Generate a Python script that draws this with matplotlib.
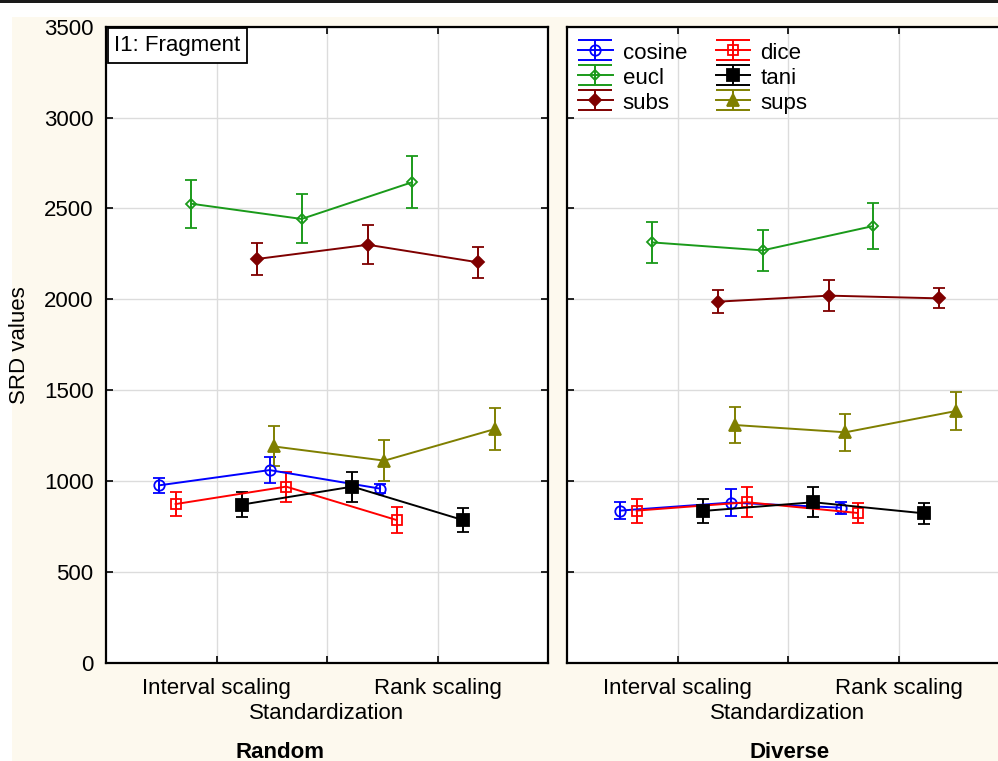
import matplotlib
matplotlib.use("Agg")
import matplotlib.pyplot as plt
from matplotlib.patches import Rectangle
from matplotlib.lines import Line2D
from matplotlib.path import Path
from matplotlib.legend_handler import HandlerTuple
import numpy as np

plt.rcParams['font.family'] = ['Liberation Sans', 'DejaVu Sans']

categories = ["Interval scaling", "Standardization", "Rank scaling"]
series = ["cosine", "dice", "eucl", "tani", "subs", "sups"]

random_means = {
    "cosine": [976, 1060, 958],
    "dice": [873, 969, 785],
    "eucl": [2526, 2442, 2644],
    "tani": [870, 969, 785],
    "subs": [2222, 2300, 2203],
    "sups": [1190, 1112, 1286],
}
random_err = {
    "cosine": [43, 71, 25],
    "dice": [68, 82, 70],
    "eucl": [133, 135, 143],
    "tani": [68, 83, 68],
    "subs": [88, 106, 85],
    "sups": [110, 112, 117],
}
diverse_means = {
    "cosine": [837, 881, 853],
    "dice": [837, 883, 824],
    "eucl": [2313, 2269, 2403],
    "tani": [835, 883, 822],
    "subs": [1987, 2020, 2005],
    "sups": [1308, 1268, 1385],
}
diverse_err = {
    "cosine": [48, 74, 33],
    "dice": [66, 83, 57],
    "eucl": [114, 112, 126],
    "tani": [66, 83, 58],
    "subs": [65, 84, 55],
    "sups": [97, 102, 102],
}
panel_titles = ["Random", "Diverse"]
inset_label = "I1: Fragment"
y_label = "SRD values"

styles = {
    "cosine": dict(color="#0000FF", marker="o", ms=7.5, mfc="none", offset=-0.52),
    "dice": dict(color="#FF0000", marker="s", ms=7.5, mfc="none", offset=-0.37),
    "eucl": dict(color="#1A9A1A", marker="D", ms=5.5, mfc="none", offset=-0.23),
    "tani": dict(color="#000000", marker="s", ms=8.5, mfc="#000000", offset=0.23),
    "subs": dict(color="#7F0000", marker="D", ms=6.0, mfc="#7F0000", offset=0.37),
    "sups": dict(color="#7F7F00", marker="^", ms=8.5, mfc="#7F7F00", offset=0.52),
}

# I-beam marker for legend glyph (wide caps above and below)
ibeam = Path([(-1.7, 1), (1.7, 1), (0, 1), (0, -1), (-1.7, -1), (1.7, -1)],
             [Path.MOVETO, Path.LINETO, Path.MOVETO, Path.LINETO, Path.MOVETO, Path.LINETO])

W, H = 998, 761
fig = plt.figure(figsize=(W / 100, H / 100), dpi=100, facecolor="white")
cream = "#FDF9EE"
fig.patches.append(Rectangle((12 / W, 0), 1 - 12 / W, 1 - 17 / H, transform=fig.transFigure,
                             facecolor=cream, edgecolor="none", zorder=-10))
fig.patches.append(Rectangle((0, 1 - 2.5 / H), 1, 2.5 / H, transform=fig.transFigure,
                             facecolor="#1a1a1a", edgecolor="none", zorder=-9))

ax_b = 1 - 662.7 / H
ax_h = (662.7 - 26.7) / H
ax_w = (548 - 106) / W
axes = [fig.add_axes([106 / W, ax_b, ax_w, ax_h]),
        fig.add_axes([567 / W, ax_b, ax_w, ax_h])]

FS = 16
xpos = np.arange(1, len(categories) + 1)
datasets = [(random_means, random_err), (diverse_means, diverse_err)]

for i, (ax, (means, errs)) in enumerate(zip(axes, datasets)):
    ax.set_facecolor("white")
    for s in series:
        st = styles[s]
        ax.errorbar(xpos + st["offset"], means[s], yerr=errs[s], color=st["color"],
                    marker=st["marker"], ms=st["ms"], mfc=st["mfc"], mec=st["color"],
                    mew=1.3, lw=1.4, elinewidth=1.4, capsize=4.5, capthick=1.4, zorder=3)
    ax.set_xlim(0, 4)
    ax.set_ylim(0, 3500)
    ax.set_yticks(np.arange(0, 3501, 500))
    ax.set_xticks(xpos)
    # middle category label sits on a second line (staggered), drawn as annotation
    ax.set_xticklabels([categories[0], "", categories[2]], fontsize=FS)
    ax.annotate(categories[1], xy=(xpos[1], 0), xycoords=("data", "axes fraction"),
                xytext=(0, -8 - 29 * 0.72), textcoords="offset points",
                ha="center", va="top", fontsize=FS, annotation_clip=False)
    ax.grid(True, color="#DCDCDC", lw=1.0, zorder=0)
    ax.tick_params(direction="in", top=True, right=True, length=5, width=1.2,
                   labelsize=FS, pad=9)
    ax.tick_params(axis="x", pad=11)
    for sp in ax.spines.values():
        sp.set_linewidth(1.6)
        sp.set_color("black")
    if i == 0:
        ax.set_ylabel(y_label, fontsize=FS, labelpad=10)
        ax.annotate(inset_label, xy=(0, 1), xycoords="axes fraction",
                    xytext=(6, -6), textcoords="offset points", ha="left", va="top",
                    fontsize=FS, bbox=dict(boxstyle="square,pad=0.3", fc="white",
                                           ec="black", lw=1.3), zorder=5)
    else:
        ax.tick_params(labelleft=False)
        order = ["cosine", "eucl", "subs", "dice", "tani", "sups"]
        hs = []
        for s in order:
            st = styles[s]
            main = Line2D([], [], color=st["color"], lw=1.4, marker=st["marker"],
                          ms=st["ms"], mfc=st["mfc"], mec=st["color"], mew=1.3)
            beam = Line2D([], [], color=st["color"], ls="none", marker=ibeam, ms=24,
                          mew=1.4, mec=st["color"], mfc="none")
            hs.append((beam, main))
        ax.legend(hs, order, loc="upper left", ncol=2, frameon=False, fontsize=FS,
                  handler_map={tuple: HandlerTuple(ndivide=1, pad=0)},
                  handlelength=1.55, handletextpad=0.45, columnspacing=1.3,
                  labelspacing=0.14, borderaxespad=0.0, handleheight=0.9,
                  numpoints=1, bbox_to_anchor=(0.005, 0.99))

fig.text(280 / W, 1 - 752 / H, panel_titles[0], ha="center", va="center",
         fontsize=FS, fontweight="bold")
fig.text(790 / W, 1 - 752 / H, panel_titles[1], ha="center", va="center",
         fontsize=FS, fontweight="bold")

fig.savefig("out.png", dpi=100, facecolor="white")
